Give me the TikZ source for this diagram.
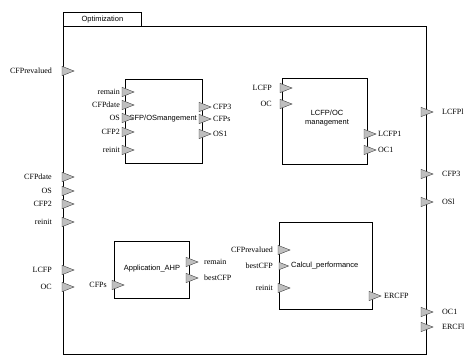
\documentclass[tikz,border=0pt]{standalone}
\usepackage{fontspec}
\setmainfont{Liberation Serif}
\setsansfont{Liberation Sans}
\newcommand\myport[3][1]{\draw[portstyle] (#2,#3-4.7*#1) -- (#2+12*#1,#3) -- (#2,#3+4.7*#1) -- cycle;}
\begin{document}
\begin{tikzpicture}[x=1pt,y=-1pt,
  portstyle/.style={fill=black!25, draw=black!75, line width=0.4pt},
  lbl/.style={font=\fontsize{8}{9}\selectfont, inner sep=0pt},
  blk/.style={draw, line width=0.8pt, inner sep=0pt, anchor=north west},
  btxt/.style={font=\sffamily\fontsize{7.5}{8.6}\selectfont, inner sep=0pt, align=center}]
\useasboundingbox (0,0) rectangle (466,356);
% outer frame
\node[blk, minimum width=363pt, minimum height=328pt] (frame) at (63,26) {};
\node[blk, minimum width=78pt, minimum height=14pt] (tabbox) at (63,12) {};
\node[btxt] (tab) at (tabbox.center) {Optimization};
% outer left ports
\foreach \t/\y in {CFPrevalued/71, CFPdate/177, OS/191, CFP2/204, reinit/222, LCFP/270, OC/287}{
  \myport{62}{\y}
  \node[lbl, anchor=east] (ol-\t) at (52,\y) {\t};
}
% outer right ports
\foreach \t/\y in {LCFPl/112, CFP3/174, OSl/202, OC1/312, ERCFl/327}{
  \myport{421}{\y}
  \node[lbl, anchor=west] (or-\t) at (442,\y) {\t};
}
% block 1
\node[blk, minimum width=77pt, minimum height=84pt] (b1) at (125,79) {};
\node[btxt] (b1t) at (163,119) {CFP/OSmangement};
\foreach \t/\y in {remain/92, CFPdate/105, OS/118, CFP2/132, reinit/150}{
  \myport{122}{\y}
  \node[lbl, anchor=east] (b1l-\t) at (120,\y) {\t};
}
\foreach \t/\y in {CFP3/107, CFPs/119, OS1/134}{
  \myport{199}{\y}
  \node[lbl, anchor=west] (b1r-\t) at (213,\y) {\t};
}
% block 2
\node[blk, minimum width=85pt, minimum height=86pt] (b2) at (282,78) {};
\node[btxt] (b2t) at (327,118) {LCFP/OC\\management};
\foreach \t/\y in {LCFP/88, OC/104}{
  \myport{280}{\y}
  \node[lbl, anchor=east] (b2l-\t) at (272,\y) {\t};
}
\foreach \t/\y in {LCFP1/134, OC1/150}{
  \myport{364}{\y}
  \node[lbl, anchor=west] (b2r-\t) at (378,\y) {\t};
}
% block 3
\node[blk, minimum width=75pt, minimum height=57pt] (b3) at (114,241) {};
\node[btxt] (b3t) at (152,269) {Application\_AHP};
\myport{112}{285}
\node[lbl, anchor=east] (b3l-CFPs) at (107,285) {CFPs};
\foreach \t/\y in {remain/262, bestCFP/278}{
  \myport{186}{\y}
  \node[lbl, anchor=west] (b3r-\t) at (204,\y) {\t};
}
% block 4
\node[blk, minimum width=93pt, minimum height=87pt] (b4) at (279,222) {};
\node[btxt, anchor=west] (b4t) at (291,266) {Calcul\_performance};
\myport{278}{250}
\node[lbl, anchor=east] (b4l-CFPrevalued) at (273,250) {CFPrevalued};
\myport[0.8]{279}{266}
\node[lbl, anchor=east] (b4l-bestCFP) at (273,266) {bestCFP};
\myport{278}{288}
\node[lbl, anchor=east] (b4l-reinit) at (273,288) {reinit};
\myport{369}{296}
\node[lbl, anchor=west] (b4r-ERCFP) at (384,296) {ERCFP};
\end{tikzpicture}
\end{document}
